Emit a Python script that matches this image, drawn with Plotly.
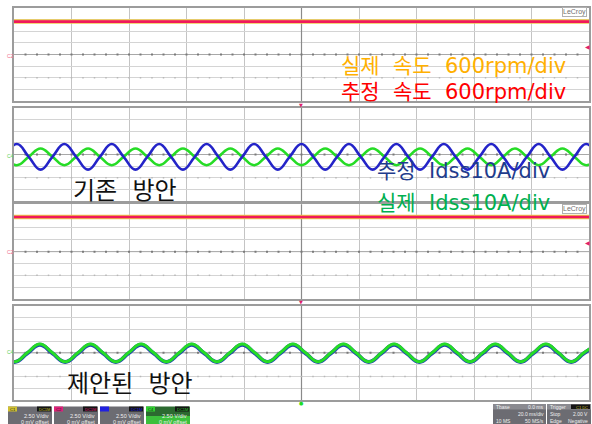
import plotly.graph_objects as go

W, H = 592, 424

# ---------------- data (screen divisions; time in ms, 20 ms/div) ----------------
speed_t = [0, 200]
speed_act_conv = [2.83, 2.83]   # 실제 속도 (yellow), top scope
speed_est_conv = [2.83, 2.83]   # 추정 속도 (red), top scope
speed_act_prop = [2.93, 2.93]   # bottom scope
speed_est_prop = [2.93, 2.93]

cur_t_conv = [-3.125, 1.0, 5.125, 9.25, 13.375, 17.5, 21.625, 25.75, 29.875, 34.0,
              38.125, 42.25, 46.375, 50.5, 54.625, 58.75, 62.875, 67.0, 71.125, 75.25,
              79.375, 83.5, 87.625, 91.75, 95.875, 100.0, 104.125, 108.25, 112.375, 116.5,
              120.625, 124.75, 128.875, 133.0, 137.125, 141.25, 145.375, 149.5, 153.625, 157.75,
              161.875, 166.0, 170.125, 174.25, 178.375, 182.5, 186.625, 190.75, 194.875, 199.0,
              203.125]
cur_est_conv = [-0.2, 0.9, -0.2, -1.3, -0.2, 0.9, -0.2, -1.3, -0.2, 0.9,
                -0.2, -1.3, -0.2, 0.9, -0.2, -1.3, -0.2, 0.9, -0.2, -1.3,
                -0.2, 0.9, -0.2, -1.3, -0.2, 0.9, -0.2, -1.3, -0.2, 0.9,
                -0.2, -1.3, -0.2, 0.9, -0.2, -1.3, -0.2, 0.9, -0.2, -1.3,
                -0.2, 0.9, -0.2, -1.3, -0.2, 0.9, -0.2, -1.3, -0.2, 0.9,
                -0.2]
cur_act_conv = [-0.2, -0.92, -0.2, 0.52, -0.2, -0.92, -0.2, 0.52, -0.2, -0.92,
                -0.2, 0.52, -0.2, -0.92, -0.2, 0.52, -0.2, -0.92, -0.2, 0.52,
                -0.2, -0.92, -0.2, 0.52, -0.2, -0.92, -0.2, 0.52, -0.2, -0.92,
                -0.2, 0.52, -0.2, -0.92, -0.2, 0.52, -0.2, -0.92, -0.2, 0.52,
                -0.2, -0.92, -0.2, 0.52, -0.2, -0.92, -0.2, 0.52, -0.2, -0.92,
                -0.2]

cur_t_prop = [-4.2, 0.2, 4.6, 9.0, 13.4, 17.8, 22.2, 26.6, 31.0, 35.4,
              39.8, 44.2, 48.6, 53.0, 57.4, 61.8, 66.2, 70.6, 75.0, 79.4,
              83.8, 88.2, 92.6, 97.0, 101.4, 105.8, 110.2, 114.6, 119.0, 123.4,
              127.8, 132.2, 136.6, 141.0, 145.4, 149.8, 154.2, 158.6, 163.0, 167.4,
              171.8, 176.2, 180.6, 185.0, 189.4, 193.8, 198.2, 202.6]
cur_est_prop = [-0.05, -0.77, -0.05, 0.68, -0.05, -0.77, -0.05, 0.68, -0.05, -0.77,
                -0.05, 0.68, -0.05, -0.77, -0.05, 0.68, -0.05, -0.77, -0.05, 0.68,
                -0.05, -0.77, -0.05, 0.68, -0.05, -0.77, -0.05, 0.68, -0.05, -0.77,
                -0.05, 0.68, -0.05, -0.77, -0.05, 0.68, -0.05, -0.77, -0.05, 0.68,
                -0.05, -0.77, -0.05, 0.68, -0.05, -0.77, -0.05, 0.68]
cur_act_prop = [0.0, -0.75, 0.0, 0.75, 0.0, -0.75, 0.0, 0.75, 0.0, -0.75,
                0.0, 0.75, 0.0, -0.75, 0.0, 0.75, 0.0, -0.75, 0.0, 0.75,
                0.0, -0.75, 0.0, 0.75, 0.0, -0.75, 0.0, 0.75, 0.0, -0.75,
                0.0, 0.75, 0.0, -0.75, 0.0, 0.75, 0.0, -0.75, 0.0, 0.75,
                0.0, -0.75, 0.0, 0.75, 0.0, -0.75, 0.0, 0.75]

ch_labels = ["C1", "C2", "C3", "C4"]
ch_vdiv = ["2.50 V/div", "2.50 V/div", "2.50 V/div", "2.50 V/div"]
ch_offset = ["0 mV offset", "0 mV offset", "0 mV offset", "0 mV offset"]

# ---------------- layout helpers ----------------
def px(x):
    return x / W

def py(y):
    return 1 - y / H

panels_px = [(8, 101), (108, 201), (204.3, 299), (305.7, 400)]
X0, X1 = 14, 589

fig = go.Figure()

KFONT = "DejaVu Sans, Noto Sans CJK KR, sans-serif"
RED = "#f0185c"
YEL = "#ecc84a"
BLUE = "#2424c8"
GREEN = "#26dc26"

def axes(i):
    return ("x" if i == 1 else f"x{i}", "y" if i == 1 else f"y{i}")

def add(i, x, y, color, width, spline=True):
    xa, ya = axes(i)
    fig.add_trace(go.Scatter(x=x, y=y, mode="lines",
                             line=dict(color=color, width=width, shape="spline" if spline else "linear", smoothing=1.3),
                             xaxis=xa, yaxis=ya, showlegend=False, hoverinfo="skip"))

# grid decoration: darker centre cross and small tick dots
tick_x = list(range(4, 200, 4))
for i in range(1, 5):
    xa, ya = axes(i)
    fig.add_trace(go.Scatter(x=[100, 100], y=[-4, 4], mode="lines", xaxis=xa, yaxis=ya,
                             line=dict(color="#8a8a8a", width=1.2), showlegend=False, hoverinfo="skip"))
    fig.add_trace(go.Scatter(x=[0, 200], y=[0, 0], mode="lines", xaxis=xa, yaxis=ya,
                             line=dict(color="#a8a8a8", width=1), showlegend=False, hoverinfo="skip"))
    fig.add_trace(go.Scatter(x=tick_x, y=[0] * len(tick_x), mode="markers", xaxis=xa, yaxis=ya,
                             marker=dict(symbol="square", size=2, color="#7a7a7a", line=dict(width=0)),
                             showlegend=False, hoverinfo="skip"))
    fig.add_trace(go.Scatter(x=tick_x, y=[-2] * len(tick_x), mode="markers", xaxis=xa, yaxis=ya,
                             marker=dict(symbol="square", size=1.5, color="#b8b8b8", line=dict(width=0)),
                             showlegend=False, hoverinfo="skip"))

add(1, speed_t, speed_act_conv, YEL, 4.5, False)
add(1, speed_t, speed_est_conv, RED, 2.6, False)
add(2, cur_t_conv, cur_act_conv, GREEN, 2.6)
add(2, cur_t_conv, cur_est_conv, BLUE, 2.6)
add(3, speed_t, speed_act_prop, YEL, 4.5, False)
add(3, speed_t, speed_est_prop, RED, 2.6, False)
add(4, cur_t_prop, cur_est_prop, "#1e46b0", 4)
add(4, cur_t_prop, cur_act_prop, GREEN, 3)

layout = dict(width=W, height=H, margin=dict(l=0, r=0, t=0, b=0),
              paper_bgcolor="white", plot_bgcolor="white", showlegend=False)
shapes = []
annotations = []
for i, (top, bot) in enumerate(panels_px, start=1):
    sx = "" if i == 1 else str(i)
    layout[f"xaxis{sx}"] = dict(domain=[px(X0), px(X1)], range=[0, 200], dtick=20, showgrid=True,
                                gridcolor="#c4c4c4", gridwidth=1, showline=True, linecolor="#9c9c9c",
                                linewidth=1.5, mirror=True, showticklabels=False, ticks="", zeroline=False,
                                anchor=f"y{sx}", fixedrange=True)
    layout[f"yaxis{sx}"] = dict(domain=[py(bot), py(top)], range=[-4, 4], dtick=1, showgrid=True,
                                gridcolor="#d4d4d4", gridwidth=1, showline=True, linecolor="#9c9c9c",
                                linewidth=1.5, mirror=True, showticklabels=False, ticks="", zeroline=False,
                                anchor=f"x{sx}", fixedrange=True)

def text(x, y, s, size, color, xanchor="left", family=KFONT, border=None):
    a = dict(xref="paper", yref="paper", x=px(x), y=py(y), text=s, showarrow=False,
             xanchor=xanchor, yanchor="middle", font=dict(size=size, color=color, family=family),
             borderpad=0)
    if border:
        a["bordercolor"] = border
        a["borderwidth"] = 1
    annotations.append(a)

def rect(x0, y0, x1, y1, fill):
    shapes.append(dict(type="rect", xref="paper", yref="paper", x0=px(x0), x1=px(x1), y0=py(y1), y1=py(y0),
                       fillcolor=fill, line=dict(width=0)))

# overlay labels
text(567, 66, "실제  속도  600rpm/div", 21, "#ffb000", xanchor="right")
text(567, 92, "추정  속도  600rpm/div", 21, "#ff0000", xanchor="right")
text(376, 171, "추정  Idss10A/div", 21, "#1f3c8c")
text(376, 203, "실제  Idss10A/div", 21, "#00b050")
text(72, 191, "기존  방안", 24, "#111111")
text(66, 384, "제안된  방안", 24, "#111111")

# LeCroy badges
text(587, 12, "LeCroy", 7, "#707070", xanchor="right", family="Liberation Sans", border="#b0b0b0")
text(587, 209, "LeCroy", 7, "#707070", xanchor="right", family="Liberation Sans", border="#b0b0b0")

# channel markers
SM = "Liberation Sans"
text(10, 56, "C2", 5, "#f07090", xanchor="center", family=SM)
text(10, 252, "C2", 5, "#f07090", xanchor="center", family=SM)
text(10, 156, "C4", 5, "#60d060", xanchor="center", family=SM)
text(10, 352, "C4", 5, "#60d060", xanchor="center", family=SM)
text(591, 46, "◀", 6, "#e0206a", xanchor="right", family="DejaVu Sans")
text(591, 242, "◀", 6, "#e0206a", xanchor="right", family="DejaVu Sans")
text(301, 105, "▼", 5, "#e0206a", xanchor="center", family="DejaVu Sans")
text(301, 302, "▼", 5, "#e0206a", xanchor="center", family="DejaVu Sans")
text(301, 403, "●", 5, "#22dd22", xanchor="center", family="DejaVu Sans")

# channel status boxes
box_x = [(8, 52), (54, 98), (100, 144), (146, 190)]
ch_col = ["#d0c030", "#e0207a", "#2020e0", "#30d030"]
for (bx0, bx1), lab, col, vd, off in zip(box_x, ch_labels, ch_col, ch_vdiv, ch_offset):
    if lab == "C4":
        rect(bx0, 406.5, bx1, 424, "#2c6a30")
        rect(bx0, 416, bx1, 424, "#3cc03c")
    else:
        rect(bx0, 406.5, bx1, 424, "#6c6c72")
    rect(bx0, 406.5, bx0 + 9, 411.5, col)
    rect(bx1 - 15, 406.5, bx1 - 1, 411.5, "#141414")
    text(bx0 + 4.5, 409, lab if lab != "C3" else "", 4, "#202020", xanchor="center", family=SM)
    text(bx1 - 8, 409, "DC1M", 4, col, xanchor="center", family=SM)
    text(bx1 - 2, 415.5, vd, 5.5, "#f0f0f0", xanchor="right", family=SM)
    text(bx1 - 2, 421.5, off, 5.5, "#f0f0f0", xanchor="right", family=SM)

# timebase / trigger boxes
rect(493, 404, 546, 424, "#6c6c72")
rect(547, 404, 591, 424, "#6c6c72")
rect(493, 404, 546, 409.5, "#8a8a90")
rect(547, 404, 591, 409.5, "#8a8a90")
rect(571, 404.5, 590, 409, "#141414")
text(495, 407, "Tbase", 5, "#f0f0f0", family=SM)
text(545, 407, "0.0 ms", 5, "#f0f0f0", xanchor="right", family=SM)
text(545, 414, "20.0 ms/div", 5, "#f0f0f0", xanchor="right", family=SM)
text(495, 420.5, "10 MS", 5, "#f0f0f0", family=SM)
text(545, 420.5, "50 MS/s", 5, "#f0f0f0", xanchor="right", family=SM)
text(549, 407, "Trigger", 5, "#f0f0f0", family=SM)
text(589, 407, "C1 DC", 4, "#d0c030", xanchor="right", family=SM)
text(549, 414, "Stop", 5, "#f0f0f0", family=SM)
text(589, 414, "2.00 V", 5, "#f0f0f0", xanchor="right", family=SM)
text(549, 420.5, "Edge", 5, "#f0f0f0", family=SM)
text(589, 420.5, "Negative", 5, "#f0f0f0", xanchor="right", family=SM)

layout["shapes"] = shapes
layout["annotations"] = annotations
fig.update_layout(**layout)
fig.write_html("out.html")
